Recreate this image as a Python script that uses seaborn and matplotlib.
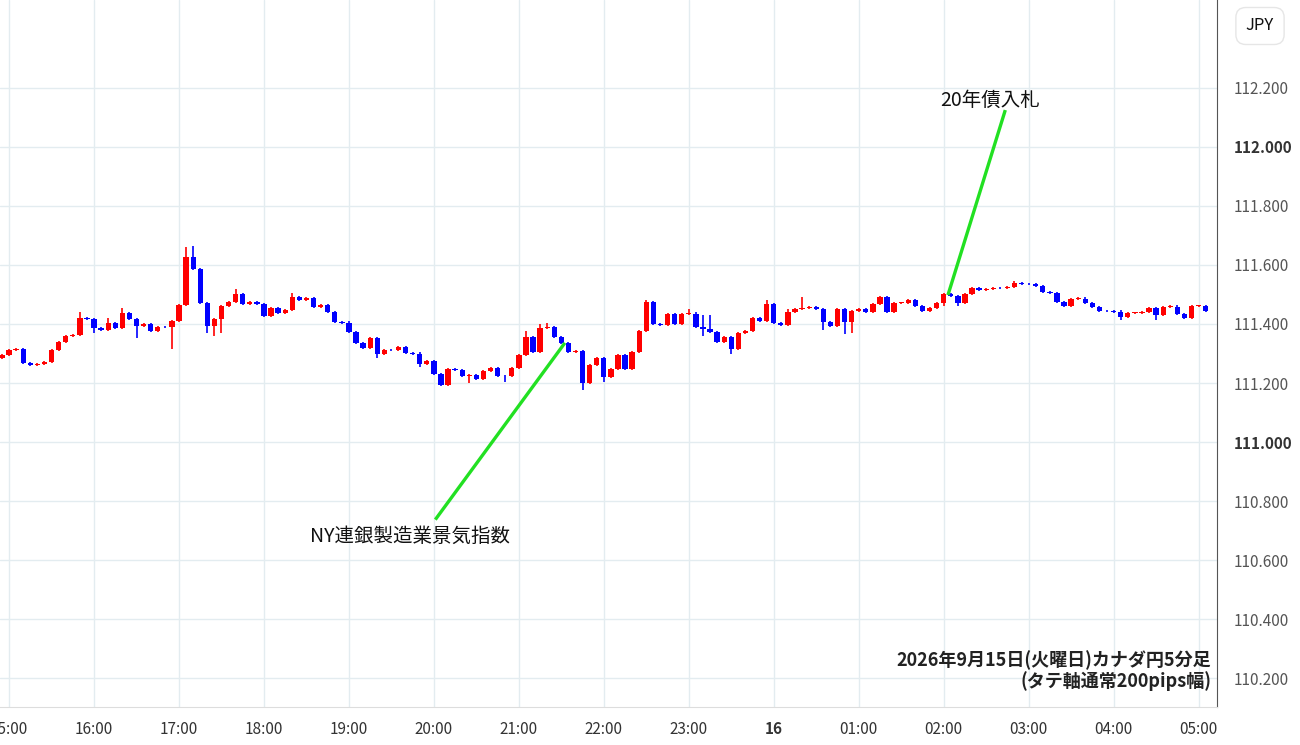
import numpy as np
import pandas as pd
import matplotlib
matplotlib.use("Agg")
import matplotlib.pyplot as plt
import seaborn as sns

# ---------- DATA (CAD/JPY 5-minute closes, first candle 14:55) ----------
first_open = 111.285
closes = [
    111.295, 111.312, 111.315, 111.268, 111.261, 111.264, 111.271, 111.312, 111.339, 111.359,
    111.363, 111.420, 111.418, 111.386, 111.380, 111.403, 111.386, 111.437, 111.417, 111.393,
    111.400, 111.376, 111.390, 111.389, 111.410, 111.464, 111.627, 111.586, 111.471, 111.393,
    111.417, 111.461, 111.475, 111.502, 111.468, 111.474, 111.468, 111.427, 111.454, 111.437,
    111.447, 111.491, 111.481, 111.487, 111.458, 111.465, 111.441, 111.407, 111.405, 111.373,
    111.336, 111.319, 111.352, 111.298, 111.312, 111.311, 111.322, 111.302, 111.300, 111.264,
    111.274, 111.230, 111.193, 111.247, 111.244, 111.224, 111.226, 111.214, 111.241, 111.251,
    111.224, 111.223, 111.251, 111.295, 111.356, 111.305, 111.386, 111.390, 111.356, 111.336,
    111.305, 111.309, 111.200, 111.261, 111.285, 111.220, 111.247, 111.295, 111.247, 111.305,
    111.376, 111.475, 111.400, 111.398, 111.434, 111.400, 111.434, 111.435, 111.390, 111.383,
    111.373, 111.339, 111.356, 111.315, 111.369, 111.376, 111.420, 111.410, 111.468, 111.403,
    111.398, 111.441, 111.451, 111.454, 111.458, 111.451, 111.407, 111.393, 111.451, 111.407,
    111.444, 111.451, 111.441, 111.468, 111.491, 111.441, 111.471, 111.472, 111.481, 111.461,
    111.444, 111.454, 111.471, 111.502, 111.495, 111.471, 111.502, 111.522, 111.515, 111.519,
    111.522, 111.521, 111.525, 111.539, 111.536, 111.535, 111.529, 111.508, 111.505, 111.475,
    111.461, 111.485, 111.486, 111.471, 111.458, 111.444, 111.443, 111.442, 111.424, 111.437,
    111.438, 111.441, 111.454, 111.430, 111.458, 111.459, 111.434, 111.420, 111.461, 111.462,
    111.444,
]
# notable wick extremes (candle index -> price)
highs_noted = {26: 111.661, 27: 111.665, 11: 111.440, 15: 111.420, 17: 111.455,
               33: 111.520, 41: 111.505, 74: 111.375, 76: 111.400, 77: 111.405,
               91: 111.480, 97: 111.450, 99: 111.430, 100: 111.430, 108: 111.480,
               113: 111.490, 111: 111.452, 143: 111.545}
lows_noted = {13: 111.370, 19: 111.352, 24: 111.316, 29: 111.370, 30: 111.360,
              31: 111.370, 53: 111.285, 59: 111.255, 62: 111.190, 66: 111.200,
              71: 111.205, 82: 111.176, 83: 111.195, 85: 111.205, 99: 111.360,
              103: 111.300, 116: 111.380, 119: 111.365, 120: 111.370, 133: 111.460,
              135: 111.460, 158: 111.415, 163: 111.415}

hour_labels = ["15:00", "16:00", "17:00", "18:00", "19:00", "20:00", "21:00", "22:00",
               "23:00", "16", "01:00", "02:00", "03:00", "04:00", "05:00"]
y_ticks = [110.2, 110.4, 110.6, 110.8, 111.0, 111.2, 111.4, 111.6, 111.8, 112.0, 112.2]

# event label: (text, label x idx, label price, line start idx, line start price, line end idx, line end price)
events = [
    ("NY連銀製造業景気指数", 57.6, 110.681, 61.2, 110.737, 79.5, 111.336),
    ("20年債入札", 139.5, 112.159, 141.7, 112.125, 133.6, 111.498),
]

# ---------- BUILD OHLC ----------
opens = [first_open] + closes[:-1]
df = pd.DataFrame({"open": opens, "close": closes})
df["idx"] = np.arange(len(df))
body_hi = df[["open", "close"]].max(axis=1)
body_lo = df[["open", "close"]].min(axis=1)
df["high"] = [max(highs_noted.get(i, h + 0.004), h) for i, h in enumerate(body_hi)]
df["low"] = [min(lows_noted.get(i, l - 0.004), l) for i, l in enumerate(body_lo)]
df["up"] = df["close"] >= df["open"]

RED, BLUE = "#ff0000", "#0000ff"

sns.set_style("white")
plt.rcParams["font.family"] = ["Noto Sans CJK JP", "DejaVu Sans"]

fig = plt.figure(figsize=(13, 7.45), dpi=100)
ax = fig.add_axes([0, 1 - 707 / 745, 1217 / 1300, 707 / 745])

colors = np.where(df["up"], RED, BLUE)
ax.vlines(df["idx"], df["low"], df["high"], colors=colors, linewidth=1.2, zorder=3)
heights = (df["close"] - df["open"]).abs().clip(lower=0.002)
ax.bar(df["idx"], heights, bottom=body_lo, width=0.75, color=colors, linewidth=0, zorder=4)

ax.set_ylim(110.102, 112.498)
ax.set_xlim(-0.28, 171.6)
hour_pos = [1 + 12 * k for k in range(len(hour_labels))]
ax.set_xticks(hour_pos)
ax.set_xticklabels(hour_labels, fontsize=11, color="#333333")
for lbl in ax.get_xticklabels():
    if lbl.get_text() == "16":
        lbl.set_fontweight("bold")
ax.yaxis.tick_right()
ax.set_yticks(y_ticks)
ax.set_yticklabels([f"{v:.3f}" for v in y_ticks], fontsize=11, color="#555555")
for lbl, v in zip(ax.get_yticklabels(), y_ticks):
    if abs(v - round(v)) < 1e-6:
        lbl.set_fontweight("bold")
        lbl.set_color("#333333")
ax.tick_params(axis="y", length=0, pad=12)
ax.tick_params(axis="x", length=0, pad=10)
ax.grid(True, color="#e3ecf0", linewidth=1)
for s in ["top", "left"]:
    ax.spines[s].set_visible(False)
ax.spines["right"].set_color("#555555")
ax.spines["bottom"].set_color("#dddddd")

# event annotations
for name, tx, ty, x0, y0, x1, y1 in events:
    ax.plot([x0, x1], [y0, y1], color="#22e022", lw=2.4, zorder=5, solid_capstyle="butt")
    ax.text(tx, ty, name, fontsize=14, ha="center", va="center", color="#111111")

ax.text(170.8, 110.225, "2026年9月15日(火曜日)カナダ円5分足\n(タテ軸通常200pips幅)",
        ha="right", va="center", fontsize=13, fontweight="bold", color="#222222",
        linespacing=1.1)

fig.text(1260 / 1300, 1 - 26 / 745, "JPY", ha="center", va="center", fontsize=12,
         color="#111111",
         bbox=dict(boxstyle="round,pad=0.6", fc="white", ec="#e6e6e6"))

fig.savefig("out.png", dpi=100)
